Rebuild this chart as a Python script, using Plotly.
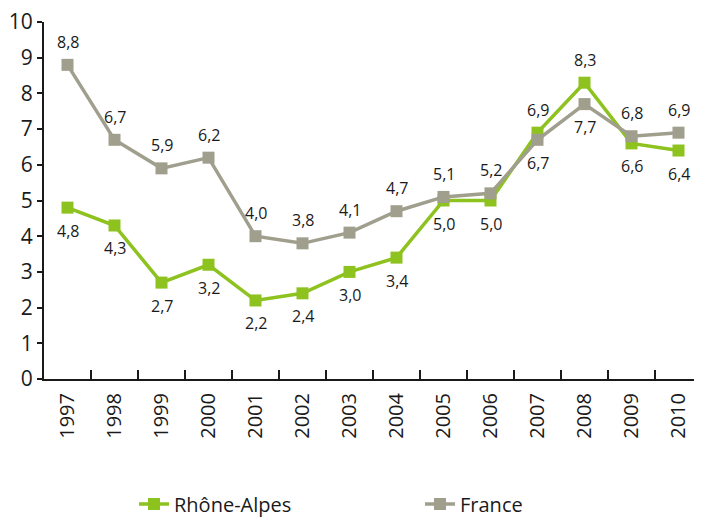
import plotly.graph_objects as go

years = ["1997", "1998", "1999", "2000", "2001", "2002", "2003", "2004",
         "2005", "2006", "2007", "2008", "2009", "2010"]
rhone_alpes = [4.8, 4.3, 2.7, 3.2, 2.2, 2.4, 3.0, 3.4, 5.0, 5.0, 6.9, 8.3, 6.6, 6.4]
france = [8.8, 6.7, 5.9, 6.2, 4.0, 3.8, 4.1, 4.7, 5.1, 5.2, 6.7, 7.7, 6.8, 6.9]
# +1 = label above the point, -1 = label below
ra_side = [-1] * 10 + [1, 1, -1, -1]
fr_side = [1] * 10 + [-1, -1, 1, 1]

GREEN = "#8dc21f"
GRAY = "#a09e8c"
FONT = "Open Sans"
INK = "#1a1a1a"

def fmt(v):
    return f"{v:.1f}".replace(".", ",")

fig = go.Figure()
fig.add_trace(go.Scatter(
    x=years, y=rhone_alpes, name="Rhône-Alpes", mode="lines+markers",
    line=dict(color=GREEN, width=3.5), marker=dict(symbol="square", size=12, color=GREEN)))
fig.add_trace(go.Scatter(
    x=years, y=france, name="France", mode="lines+markers",
    line=dict(color=GRAY, width=3.5), marker=dict(symbol="square", size=12, color=GRAY)))

for series, sides in ((rhone_alpes, ra_side), (france, fr_side)):
    for i, (v, s) in enumerate(zip(series, sides)):
        # category axis: position by category index
        fig.add_annotation(x=i, y=v, text=fmt(v), showarrow=False,
                           yshift=23 * s, yanchor="middle",
                           font=dict(family=FONT, size=16, color=INK))

fig.update_layout(
    width=702, height=520, paper_bgcolor="white", plot_bgcolor="white",
    margin=dict(l=36, r=8, t=14, b=149),
    font=dict(family=FONT, color=INK),
    showlegend=True,
    legend=dict(orientation="h", xref="container", yref="container",
                x=0.1795, xanchor="left", y=0.046, yanchor="middle",
                font=dict(family=FONT, size=20), entrywidth=241, traceorder="normal"),
    xaxis=dict(type="category", showline=True, linecolor=INK, linewidth=2,
               ticks="inside", tickson="boundaries", ticklen=9, tickwidth=2, tickcolor=INK,
               tickangle=-90, tickfont=dict(family=FONT, size=20), showgrid=False,
               range=[-0.5, 13.5], automargin=False, ticklabelstandoff=4),
    yaxis=dict(range=[0, 10], dtick=1, showline=True, linecolor=INK, linewidth=2,
               ticks="outside", ticklen=5, tickwidth=2, tickcolor=INK,
               tickfont=dict(family=FONT, size=21), showgrid=False, zeroline=False,
               automargin=False, ticklabeloverflow="allow"),
)

fig.write_html("out.html")
